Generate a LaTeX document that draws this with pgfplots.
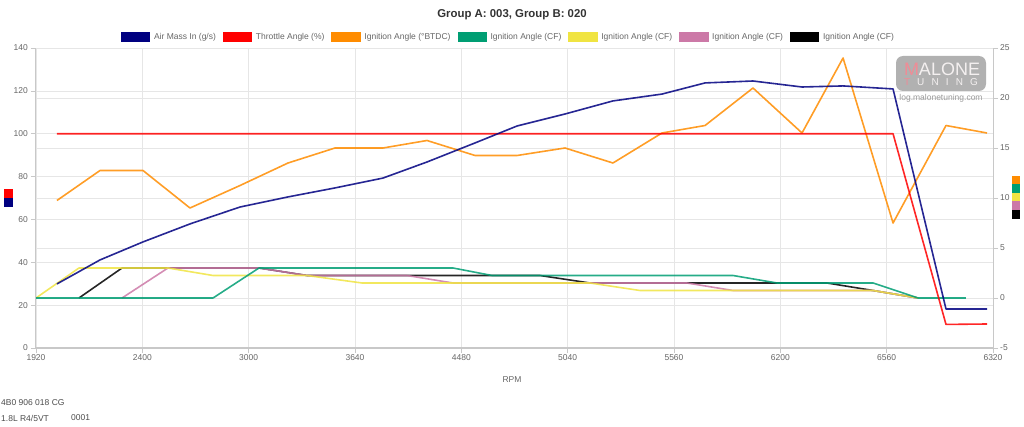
\documentclass[border=0pt]{standalone}
\usepackage{pgfplots}
\usepackage{pgfplotstable}
\pgfplotsset{compat=1.18}
\usepackage{fontspec}
\setmainfont{Liberation Sans}

\definecolor{airmass}{HTML}{000080}
\definecolor{throttle}{HTML}{FF0000}
\definecolor{ignbtdc}{HTML}{FF8C00}
\definecolor{cfgreen}{HTML}{009E73}
\definecolor{cfyellow}{HTML}{F0E442}
\definecolor{cfpink}{HTML}{CC79A7}
\definecolor{cfblack}{HTML}{000000}
\definecolor{ticktext}{HTML}{666666}
\definecolor{gridc}{HTML}{E6E6E6}
\definecolor{axisc}{HTML}{C8C8C8}
\definecolor{wmbox}{HTML}{A8A8A8}
\definecolor{wmred}{HTML}{F08C96}
\definecolor{wmlight}{HTML}{F4F0F0}

% Group A (003): air mass, throttle, ignition timing
\pgfplotstableread{
t      airmass throttle btdc
19.7   29.9    100   9.75
60.2   41.1    100   12.75
100.6  49.5    100   12.75
144.8  57.9    100   9.0
191.9  65.8    100   11.25
237.0  70.5    100   13.5
281.2  74.7    100   15.0
326.3  79.3    100   15.0
367.7  86.8    100   15.75
412.9  95.7    100   14.25
452.4  103.6   100   14.25
497.5  109.2   100   15.0
542.6  115.3   100   13.5
588.7  118.5   100   16.5
629.2  123.7   100   17.25
674.3  124.6   100   21.0
720.4  121.8   100   16.5
759.0  122.3   100   24.0
806.0  120.9   100   7.5
855.8  18.2    11.0  17.25
894.4  18.2    11.2  16.5
}\groupA

% Group B (020): cylinder retard, cylinders 1-4
\pgfplotstableread{
t      cfa   cfb   cfc   cfd
0      0     0     nan   nan
40.4   0     3.0   nan   0
80.9   0     3.0   0     3.0
124.1  0     3.0   3.0   3.0
166.5  0     2.25  3.0   3.0
209.7  3.0   2.25  3.0   3.0
254.9  3.0   2.25  2.25  2.25
306.6  3.0   1.5   2.25  2.25
348.9  3.0   1.5   2.25  2.25
392.2  3.0   1.5   1.5   2.25
428.9  2.25  1.5   1.5   2.25
474.0  2.25  1.5   1.5   2.25
521.0  2.25  1.5   1.5   1.5
568.0  2.25  0.75  1.5   1.5
612.2  2.25  0.75  1.5   1.5
655.5  2.25  0.75  0.75  1.5
696.9  1.5   0.75  0.75  1.5
743.9  1.5   0.75  0.75  1.5
787.2  1.5   0.75  0.75  0.75
829.5  0     0     0     0
874.6  0     nan   nan   nan
}\groupB

\pgfplotsset{
  logaxis/.style={
    scale only axis,
    width=957bp, height=300bp,
    at={(36bp,79bp)}, anchor=south west,
    xmin=0, xmax=900,
    xtick={0,100,...,900},
    tick align=outside,
    major tick length=5bp,
    tick style={axisc, line width=0.6bp},
    axis line style={axisc, line width=1bp},
    major grid style={gridc, line width=0.6bp},
    tick label style={font=\fontsize{8.5bp}{10bp}\selectfont, text=ticktext},
    /pgf/number format/assume math mode=true,
    clip=false,
  },
  trace/.style={line width=1.6bp, opacity=0.85, line join=round, no markers},
}

\begin{document}
\begin{tikzpicture}
\useasboundingbox (0bp,0bp) rectangle (1024bp,427bp);

% right-hand axis: ignition angles (degrees), carries all grid lines
\begin{axis}[logaxis,
  ymin=-5, ymax=25, ytick={-5,0,...,25},
  axis y line*=right, axis x line*=bottom,
  xticklabels={},
  xmajorgrids, ymajorgrids,
  extra y ticks={-0.7143,3.5714,7.8571,12.1429,16.4286,20.7143},
  extra y tick labels={},
  extra y tick style={major tick length=0pt, grid=major},
  yticklabel style={inner sep=0pt, xshift=2bp},
]
\addplot[trace, color=cfblack]  table[x=t, y=cfd] {\groupB};
\addplot[trace, color=cfpink]   table[x=t, y=cfc] {\groupB};
\addplot[trace, color=cfyellow] table[x=t, y=cfb] {\groupB};
\addplot[trace, color=cfgreen]  table[x=t, y=cfa] {\groupB};
\addplot[trace, color=ignbtdc]  table[x=t, y=btdc] {\groupA};
\end{axis}

% left-hand axis: air mass (g/s) and throttle (%)
\begin{axis}[logaxis,
  ymin=0, ymax=140, ytick={0,20,...,140},
  axis y line*=left, axis x line*=bottom,
  xticklabels={1920,2400,3000,3640,4480,5040,5560,6200,6560,6320},
  xticklabel style={inner sep=0pt, yshift=-1bp},
  yticklabel style={inner sep=0pt, xshift=-3bp},
  xlabel={RPM},
  xlabel style={at={(axis description cs:0.4974,-0.1067)}, anchor=center,
    font=\fontsize{8.5bp}{10bp}\selectfont, text=ticktext, inner sep=0pt},
  title={Group A: 003, Group B: 020},
  title style={at={(axis description cs:0.4974,1.0900)}, anchor=center,
    font=\bfseries\fontsize{11.4bp}{13bp}\selectfont, text=black!80, inner sep=0pt},
  legend columns=7,
  legend cell align=left,
  legend image code/.code={\draw[#1, line width=0.6bp] (0bp,-4.6bp) rectangle (28.4bp,4.6bp);},
  legend style={at={(0.4927,1.0367)}, anchor=center,
    draw=none, fill=none, inner sep=0pt, outer sep=0pt,
    font=\fontsize{8.5bp}{10bp}\selectfont, text=ticktext,
    nodes={inner sep=0pt},
    /tikz/every odd column/.append style={column sep=4bp},
    /tikz/every even column/.append style={column sep=7bp}},
]
\addplot[trace, color=throttle, forget plot] table[x=t, y=throttle] {\groupA};
\addplot[trace, color=airmass, forget plot]  table[x=t, y=airmass] {\groupA};
\addlegendimage{fill=airmass, draw=airmass}
\addlegendentry{Air Mass In (g/s)}
\addlegendimage{fill=throttle, draw=throttle}
\addlegendentry{Throttle Angle (\%)}
\addlegendimage{fill=ignbtdc, draw=ignbtdc}
\addlegendentry{Ignition Angle (°BTDC)}
\addlegendimage{fill=cfgreen, draw=cfgreen}
\addlegendentry{Ignition Angle (CF)}
\addlegendimage{fill=cfyellow, draw=cfyellow}
\addlegendentry{Ignition Angle (CF)}
\addlegendimage{fill=cfpink, draw=cfpink}
\addlegendentry{Ignition Angle (CF)}
\addlegendimage{fill=cfblack, draw=cfblack}
\addlegendentry{Ignition Angle (CF)}
\end{axis}

\begin{scope}[x=1bp, y=1bp]
% axis colour keys
\fill[throttle] (4,229) rectangle (12.7,238);
\fill[airmass]  (4,220) rectangle (12.7,229);
\fill[ignbtdc]  (1011.7,242.5) rectangle (1020,251);
\fill[cfgreen]  (1011.7,234) rectangle (1020,242.5);
\fill[cfyellow] (1011.7,225.5) rectangle (1020,234);
\fill[cfpink]   (1011.7,217) rectangle (1020,225.5);
\fill[cfblack]  (1011.7,208) rectangle (1020,217);

% watermark
\fill[wmbox, opacity=0.9, rounded corners=7bp] (896,336) rectangle (986,371);
\node[inner sep=0pt, font=\fontsize{18bp}{18bp}\selectfont] at (941,358)
  {\makebox[74bp][s]{\textcolor{wmred}{M}\hfill\textcolor{wmlight}{A}\hfill\textcolor{wmlight}{L}\hfill\textcolor{wmlight}{O}\hfill\textcolor{wmlight}{N}\hfill\textcolor{wmlight}{E}}};
\node[inner sep=0pt, font=\fontsize{10bp}{10bp}\selectfont] at (941,345)
  {\makebox[74bp][s]{\textcolor{wmred}{T}\hfill\textcolor{wmlight}{U}\hfill\textcolor{wmlight}{N}\hfill\textcolor{wmlight}{I}\hfill\textcolor{wmlight}{N}\hfill\textcolor{wmlight}{G}}};
\node[inner sep=0pt, font=\fontsize{8.5bp}{10bp}\selectfont, text=black!40] at (941,329)
  {log.malonetuning.com};

% ECU identification
\node[anchor=west, inner sep=0pt, font=\fontsize{8.5bp}{10bp}\selectfont, text=black!70] at (1,24)
  {4B0 906 018 CG};
\node[anchor=west, inner sep=0pt, font=\fontsize{8.5bp}{10bp}\selectfont, text=black!70] at (1,9)
  {1.8L R4/5VT};
\node[anchor=west, inner sep=0pt, font=\fontsize{8.5bp}{10bp}\selectfont, text=black!70] at (71,9)
  {0001};
\end{scope}
\end{tikzpicture}
\end{document}
